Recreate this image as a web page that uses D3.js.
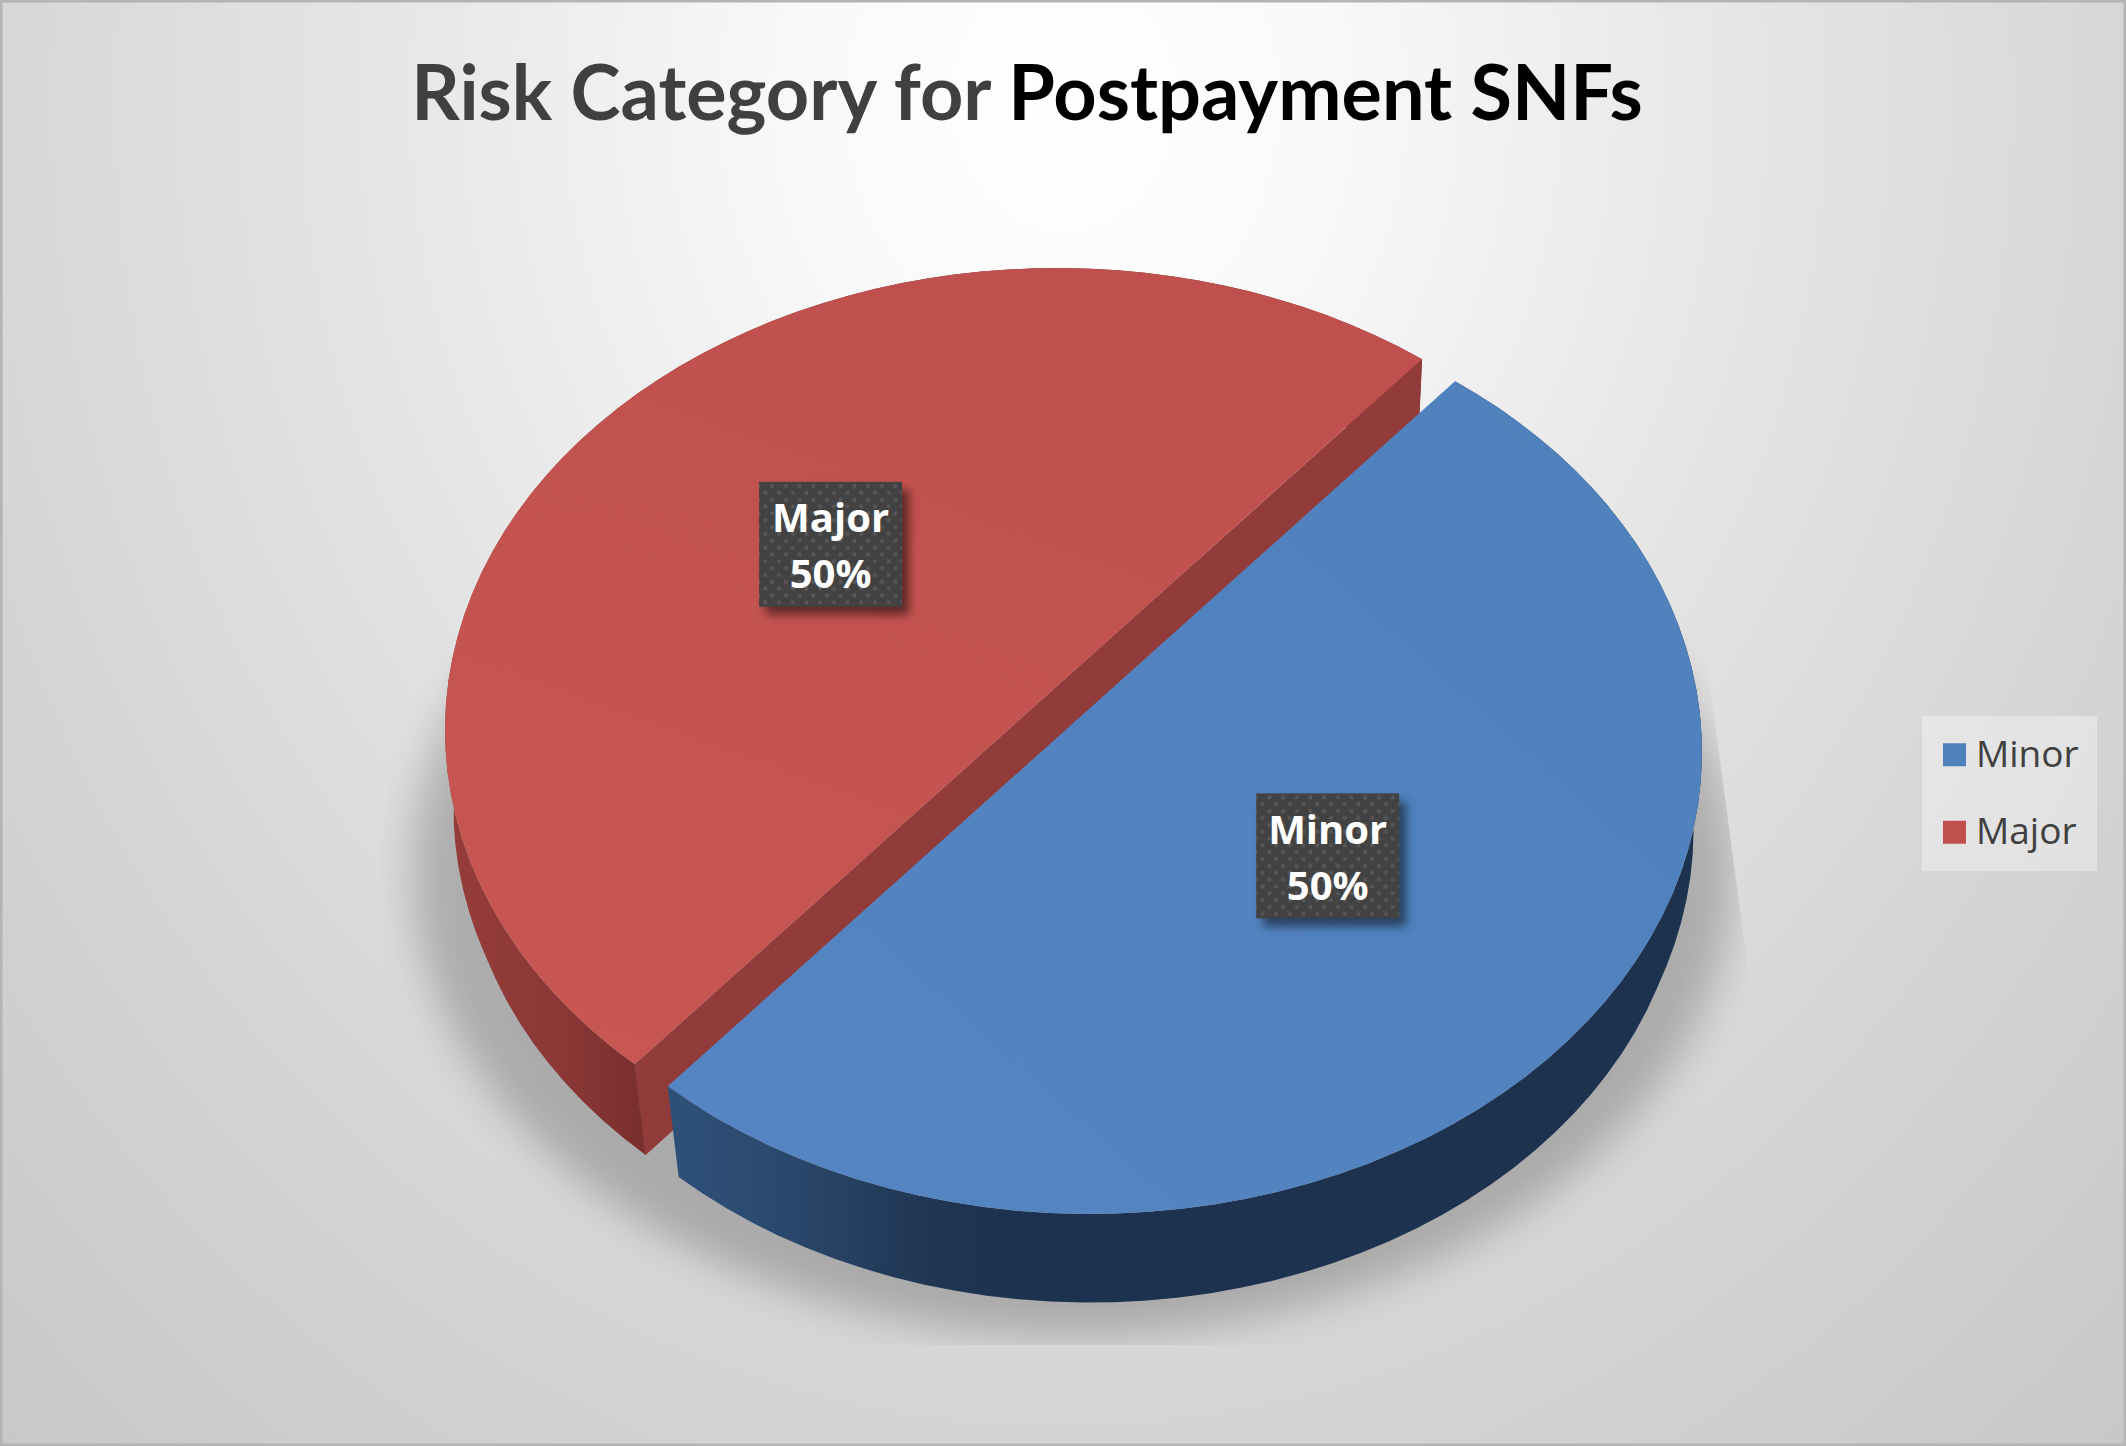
<!DOCTYPE html>
<html><head><meta charset="utf-8">
<script src="https://cdn.jsdelivr.net/npm/d3@7/dist/d3.min.js"></script>
<style>html,body{margin:0;padding:0;background:#fff}svg{display:block}</style>
</head><body>
<svg id="c" width="2126" height="1446"></svg>
<script>
const categories = ["Minor", "Major"];
const values = [50, 50];
const titleParts = ["Risk Category for ", "Postpayment SNFs"];

const W = 2126, H = 1446;
const svg = d3.select("#c");
const defs = svg.append("defs");

// background
const bg = defs.append("radialGradient").attr("id","bg").attr("gradientUnits","userSpaceOnUse")
  .attr("cx",0).attr("cy",0).attr("r",1)
  .attr("gradientTransform",`translate(1063,100) scale(${1200*1.3},${1400*1.3})`);
[[0,"#ffffff"],[0.22,"#f9f9f9"],[0.6,"#e4e4e4"],[0.95,"#d4d4d4"],[1.3,"#c8c8c8"]].forEach(s=>
  bg.append("stop").attr("offset",s[0]/1.3).attr("stop-color",s[1]));
svg.append("rect").attr("width",W).attr("height",H).attr("fill","url(#bg)");
svg.append("rect").attr("x",1).attr("y",1).attr("width",W-2).attr("height",H-2)
  .attr("fill","none").attr("stroke","#b4b4b4").attr("stroke-width",3);

// projection of the tilted disc
const geom = {
  Major:{cx:1057,cy:730,lx:0,ly:1},
  Minor:{cx:1090,cy:752,lx:-3,ly:-4}
};
const RX = 612, RY = 462, C = -0.095, D = 96, SY = 0.984;
function project(cat, angle, r, low){
  const x0 = r*Math.sin(angle), y0 = -r*Math.cos(angle);
  const den = 1 + C*y0, k = Math.sqrt(1-C*C);
  const u = x0*k/den, v = (y0+C)/den;
  const g = geom[cat];
  if(!low) return [g.cx+u*RX, g.cy+v*RY];
  const sx = 0.974 + 0.013*Math.min(1,Math.max(0,(0.3-v)/0.34));
  return [g.cx+u*RX*sx, g.cy+D+v*RY*SY];
}

const pie = d3.pie().sort(null)
  .startAngle(40*Math.PI/180).endAngle(400*Math.PI/180)
  .value((d,i)=>values[i]);
const slices = pie(categories);
const total = d3.sum(values);
const line = d3.line();
const fills = {Minor:"url(#blueTop)", Major:"url(#redTop)"};
const walls = {Minor:"url(#blueWall)", Major:"url(#redWall)"};

function linGrad(id,x1,y1,x2,y2,stops){
  const g = defs.append("linearGradient").attr("id",id).attr("gradientUnits","userSpaceOnUse")
    .attr("x1",x1).attr("y1",y1).attr("x2",x2).attr("y2",y2);
  stops.forEach(s=>g.append("stop").attr("offset",s[0]).attr("stop-color",s[1]));
}
linGrad("blueTop",1500,300,700,1200,[[0,"#4f81bd"],[1,"#5585c2"]]);
linGrad("redTop",1000,260,700,1100,[[0,"#c0504d"],[1,"#c85754"]]);
linGrad("blueWall",660,0,1010,0,[[0,"#2f5179"],[0.3,"#2b4a70"],[0.8,"#1f3551"],[1,"#1d324e"]]);
linGrad("redWall",470,0,650,0,[[0,"#943c3a"],[0.55,"#893735"],[1,"#782e2c"]]);

// shadow
defs.append("filter").attr("id","soft").attr("x","-20%").attr("y","-20%").attr("width","140%").attr("height","140%")
  .append("feGaussianBlur").attr("stdDeviation",20);
defs.append("clipPath").attr("id","shadowClip").append("path")
  .attr("d","M414,570 L319,1345 L1798,1345 L1692,550 Z");
svg.append("g").attr("clip-path","url(#shadowClip)")
  .append("ellipse").attr("cx",1073).attr("cy",870).attr("rx",660).attr("ry",465)
  .attr("fill","#000").attr("opacity",0.21).attr("filter","url(#soft)");

function arcPts(cat,a0,a1,low){
  const n = 64, pts = [];
  for(let i=0;i<=n;i++){ pts.push(project(cat,a0+(a1-a0)*i/n,1,low)); }
  return pts;
}

// draw Major (behind) first, then Minor
[slices[1],slices[0]].forEach(s=>{
  const cat = s.data;
  const top = arcPts(cat,s.startAngle,s.endAngle,false);
  const low = arcPts(cat,s.startAngle,s.endAngle,true);
  svg.append("path").attr("d",line(top.concat(low.slice().reverse()))+"Z").attr("fill",walls[cat]);
  if(cat==="Major"){
    svg.append("path").attr("d",line([top[0],top[top.length-1],low[low.length-1],low[0]])+"Z").attr("fill","#913b3a");
    svg.append("path").attr("d",line([top[0],low[0]])).attr("stroke","#7e302e").attr("stroke-width",1).attr("fill","none").attr("opacity",0.6);
  }
  svg.append("path").attr("d",line(top)+"Z").attr("fill",fills[cat]);
});

// data labels
const pat = defs.append("pattern").attr("id","dots").attr("patternUnits","userSpaceOnUse")
  .attr("width",13.7).attr("height",13.7);
pat.append("rect").attr("width",13.7).attr("height",13.7).attr("fill","#424242");
pat.append("rect").attr("x",1.5).attr("y",1.5).attr("width",3.5).attr("height",3.5).attr("fill","#585858");
pat.append("rect").attr("x",8.35).attr("y",8.35).attr("width",3.5).attr("height",3.5).attr("fill","#585858");
const ds = defs.append("filter").attr("id","lblShadow").attr("x","-20%").attr("y","-20%").attr("width","150%").attr("height","150%");
ds.append("feGaussianBlur").attr("stdDeviation",5);

const BW = 143, BH = 125;
slices.forEach(s=>{
  const cat = s.data;
  const [x,y] = project(cat,(s.startAngle+s.endAngle)/2,0.5,false);
  const g = svg.append("g").attr("transform",`translate(${x+geom[cat].lx},${y+geom[cat].ly})`);
  g.append("rect").attr("x",-BW/2+7).attr("y",-BH/2+8).attr("width",BW).attr("height",BH)
    .attr("fill","#000").attr("opacity",0.5).attr("filter","url(#lblShadow)");
  g.append("rect").attr("x",-BW/2).attr("y",-BH/2).attr("width",BW).attr("height",BH).attr("fill","url(#dots)");
  const t = g.append("text").attr("text-anchor","middle").attr("fill","#fff")
    .attr("font-family","'Open Sans'").attr("font-weight",700).attr("font-size",40);
  t.append("tspan").attr("x",0).attr("y",-12).text(cat);
  t.append("tspan").attr("x",0).attr("y",44).text(d3.format(".0%")(s.value/total));
});

// title
const title = svg.append("text").attr("x",1027).attr("y",120).attr("text-anchor","middle")
  .attr("font-family","Lato").attr("font-weight",700).attr("font-size",75.6);
title.append("tspan").attr("fill","#404040").text(titleParts[0]);
title.append("tspan").attr("fill","#000").text(titleParts[1]);

// legend
svg.append("rect").attr("x",1922).attr("y",716).attr("width",175).attr("height",155).attr("fill","#fff").attr("opacity",0.35);
const legendY = d3.scaleBand().domain(categories).range([716,871]);
const legendColors = {Minor:"#4f81bd",Major:"#c0504d"};
categories.forEach(c=>{
  const cy = legendY(c)+legendY.bandwidth()/2;
  svg.append("rect").attr("x",1943).attr("y",cy-11.5).attr("width",23).attr("height",23).attr("fill",legendColors[c]);
  svg.append("text").attr("x",1976).attr("y",cy+12).attr("font-family","'Open Sans'").attr("font-size",37)
    .attr("fill","#404040").text(c);
});
</script>
</body></html>
